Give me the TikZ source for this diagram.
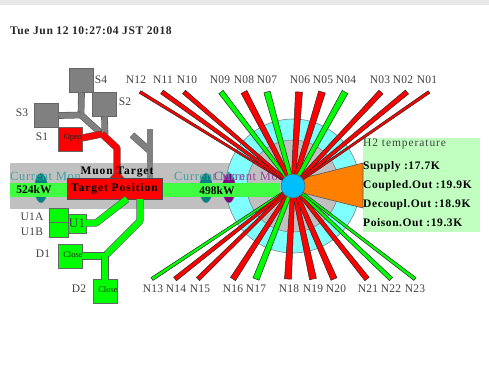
\documentclass[tikz,border=0pt]{standalone}
\usepackage{fontspec}
\setmainfont{Liberation Serif}
\newfontfamily\spa[LetterSpace=2]{Liberation Serif}
\newfontfamily\spb[LetterSpace=5]{Liberation Serif}
\newfontfamily\spc[LetterSpace=8]{Liberation Serif}
\newfontfamily\spd[LetterSpace=10]{Liberation Serif}
\usetikzlibrary{calc}
\definecolor{cyanr}{HTML}{80FFFF}
\definecolor{grayr}{HTML}{C0C0C0}
\definecolor{bandg}{HTML}{40FF40}
\definecolor{panel}{HTML}{C0FFC0}
\definecolor{hubc}{HTML}{00BFFF}
\definecolor{orangec}{HTML}{FF8000}
\definecolor{valve}{HTML}{808080}
\definecolor{teald}{HTML}{008080}
\definecolor{purp}{HTML}{800080}
\definecolor{lab}{HTML}{404040}
\tikzset{
  x=1pt,y=-1pt,
  lbl/.style={font=\spa\fontsize{11.5}{12}\selectfont,text=lab,inner sep=0pt},
  boldb/.style={font=\spb\fontsize{11.5}{12}\selectfont\bfseries,inner sep=0pt},
  boldc/.style={font=\spc\fontsize{11.5}{12}\selectfont\bfseries,inner sep=0pt},
  boldp/.style={font=\fontsize{11.5}{12}\selectfont\bfseries,inner sep=0pt},
  sq/.style={draw=black!60,line width=.7pt,minimum width=24pt,minimum height=24pt,inner sep=0pt,outer sep=0pt},
  pipeg/.style={double=valve,double distance=5.5pt,draw=black!65,line width=.6pt,line join=bevel},
  piper/.style={double=red,double distance=6pt,draw=black!65,line width=.6pt,line join=bevel},
  pipegr/.style={double=green,double distance=6pt,draw=black!65,line width=.6pt,line join=bevel},
  ray/.style={draw=black!85,line width=.5pt,line join=miter},
  mon/.style={font=\spb\fontsize{12.5}{13}\selectfont,inner sep=0pt,anchor=west},
  tiny/.style={font=\fontsize{8.5}{9}\selectfont,inner sep=0pt,text=black!85},
}
\newcommand{\taperay}[3]{% end coordinate, colour, width
  \pgfmathsetmacro{\wa}{0.28*#3}
  \pgfmathsetmacro{\wb}{0.5*#3}
  \filldraw[ray,fill=#2] ($(hub)!\wa pt!90:(#1)$) -- ($(#1)!\wb pt!-90:(hub)$) -- ($(#1)!\wb pt!90:(hub)$) -- ($(hub)!\wa pt!-90:(#1)$) -- cycle;
}
\begin{document}
\begin{tikzpicture}
\useasboundingbox (0,0) rectangle (489,368);
\fill[black!9] (0,0) rectangle (489,5);
\node[inner sep=0pt,anchor=west,font=\spb\fontsize{11.6}{12}\selectfont\bfseries,text=black!85] (date) at (10,31) {Tue Jun 12 10:27:04 JST 2018};
\coordinate (hub) at (293,186);
\fill[grayr] (10,163) rectangle (240,209);
\draw[draw=black!50,fill=cyanr,line width=.6pt] (hub) circle[radius=67];
\draw[draw=black!50,fill=grayr,line width=.6pt] (hub) circle[radius=46];
\filldraw[draw=black!40,fill=teald] (41,188) ellipse[x radius=6.5,y radius=15];
\filldraw[draw=black!40,fill=teald] (206,188) ellipse[x radius=6.5,y radius=15];
\filldraw[draw=black!40,fill=purp] (229,188) ellipse[x radius=6.5,y radius=15];
\node[mon,text=teald!75] (cm1) at (10,176) {Current Mon};
\node[mon,text=teald!75] (cm2) at (174,176) {Current Mon};
\node[mon,text=purp!75] (cm3) at (214,176) {Current Mon};
\fill[bandg] (10,183) rectangle (280,197);
\fill[panel] (363,138) rectangle (480,232);
\filldraw[draw=black!65,fill=orangec,line width=.6pt] (303,178) -- (363,163) -- (363,208) -- (303,193) -- cycle;
\foreach \n/\x/\tx/\c/\w in {
 N12/140/136/red/3,N11/162/163/red/4.5,N10/184/187/red/4.5,N09/221/220/green/5.5,
 N08/244/244/red/6.5,N07/267/267/green/6.5,N06/299/300/red/7,N05/322/323/red/7,
 N04/345/346/green/6.5,N03/381/380/red/5.5,N02/407/403/red/5,N01/429/427/red/3}{
  \coordinate (e\n) at (\x,92);
  \node[lbl] (l\n) at (\tx,80) {\n};
  \taperay{e\n}{\c}{\w}
}
\foreach \n/\x/\tx/\c/\w in {
 N13/152/153/green/3.5,N14/175/176/red/4.5,N15/198/200/red/4.5,N16/233/233/red/6,
 N17/256/256/green/6.5,N18/288/289/red/7,N19/313/313/red/7,N20/334/336/red/6.5,
 N21/367/368/red/5.5,N22/391/391/green/4.5,N23/415/415/green/3.5}{
  \coordinate (e\n) at (\x,279);
  \node[lbl] (l\n) at (\tx,289) {\n};
  \taperay{e\n}{\c}{\w}
}
\node[circle,draw=black!60,fill=hubc,line width=.6pt,minimum size=24pt,inner sep=0pt] (core) at (hub) {};
\node[anchor=west,inner sep=0pt,font=\spc\fontsize{11.5}{12}\selectfont,text=black!75] (h2) at (363,144) {H2 temperature};
\node[boldb,anchor=west] (t1) at (363,167) {Supply :17.7K};
\node[boldb,anchor=west] (t2) at (363,186) {Coupled.Out :19.9K};
\node[boldb,anchor=west] (t3) at (363,205) {Decoupl.Out :18.9K};
\node[boldb,anchor=west] (t4) at (363,223) {Poison.Out :19.3K};
\coordinate (jA) at (81,115);
\coordinate (jB) at (102,134);
\coordinate (jC) at (117,148);
\coordinate (jD) at (117,178);
\coordinate (mA) at (132,135);
\coordinate (mB) at (150,151);
\coordinate (mC) at (150,129);
\coordinate (mD) at (150,178);
\coordinate (gA) at (96,223);
\coordinate (gB) at (127,199);
\coordinate (gC) at (140,199);
\coordinate (gD) at (140,221);
\coordinate (gE) at (105,256);
\node[sq,fill=valve] (S4) at (81.5,80.5) {};
\node[sq,fill=valve] (S2) at (104.5,104.5) {};
\node[sq,fill=valve] (S3) at (46.5,115.5) {};
\node[sq,fill=red] (S1) at (70,139) {};
\draw[pipeg] (S4.south) -- (jA);
\draw[pipeg] (S3.east) -- (jA);
\draw[pipeg] (jA) -- (jB);
\draw[pipeg] (S2.south) -- (105,134);
\draw[piper] (S1.east |- 0,138) -- (jB);
\draw[piper] (jB) -- (jC) -- (jD);
\filldraw[draw=black!65,fill=red,line width=.5pt] (110,178) -- (117,170) -- (124,178) -- cycle;
\draw[pipeg] (mA) -- (mB);
\draw[pipeg] (mC) -- (mD);
\node[boldc] (muon) at (117,172) {Muon Target};
\node[draw=black!70,fill=red,line width=.7pt,minimum width=95pt,minimum height=21pt,inner sep=0pt,outer sep=0pt,boldc] (target) at (114.5,188.5) {Target Position};
\node[draw=black!60,fill=green,line width=.7pt,minimum width=18pt,minimum height=19pt,inner sep=0pt,outer sep=0pt,font=\spa\fontsize{13}{14}\selectfont,text=lab] (U1) at (77,223.5) {U1};
\node[draw=black!60,fill=green,line width=.7pt,minimum width=19pt,minimum height=13.5pt,inner sep=0pt,outer sep=0pt] (U1A) at (58.5,215.5) {};
\node[draw=black!60,fill=green,line width=.7pt,minimum width=19pt,minimum height=15pt,inner sep=0pt,outer sep=0pt] (U1B) at (58.5,229.5) {};
\draw[pipegr] (U1.east |- gA) -- (gA) -- (gB);
\node[sq,fill=green] (D1) at (70,256) {};
\node[sq,fill=green] (D2) at (105,291.5) {};
\draw[pipegr] (gC) -- (gD) -- (gE);
\draw[pipegr] (D1.east |- gE) -- (gE);
\draw[pipegr] (gE) -- (D2.north);
\node[tiny] (xopen) at (73,138) {Open};
\node[tiny] (xc1) at (73,255) {Close};
\node[tiny] (xc2) at (108,290) {Close};
\node[lbl] (xS4) at (101,80) {S4};
\node[lbl] (xS2) at (125,102) {S2};
\node[lbl] (xS3) at (22,113) {S3};
\node[lbl] (xS1) at (42,137) {S1};
\node[lbl] (xUA) at (32,217) {U1A};
\node[lbl] (xUB) at (32,232) {U1B};
\node[lbl] (xD1) at (43,254) {D1};
\node[lbl] (xD2) at (79,289) {D2};
\node[boldp] (p1) at (34,190) {524kW};
\node[boldp] (p2) at (217,191) {498kW};
\end{tikzpicture}
\end{document}
